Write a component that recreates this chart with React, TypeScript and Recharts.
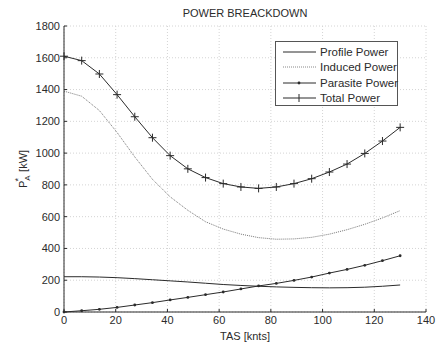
import { LineChart, Line, XAxis, YAxis, CartesianGrid, Label } from 'recharts'

// true air speed samples [knts]
const tas = [
  0, 6.84, 13.68, 20.53, 27.37, 34.21, 41.05, 47.89, 54.74, 61.58,
  68.42, 75.26, 82.11, 88.95, 95.79, 102.63, 109.47, 116.32, 123.16, 130,
]

// power components [kW]
const profilePower = [
  222, 222, 220, 216, 210, 203, 196, 189, 181, 173,
  167, 162, 158, 155, 153, 152, 153, 156, 162, 170,
]
const inducedPower = [
  1390, 1358, 1268, 1130, 976, 835, 725, 640, 568, 522,
  490, 468, 458, 460, 470, 490, 518, 552, 592, 638,
]
const parasitePower = [
  0, 8, 17, 29, 44, 59, 76, 92, 109, 126,
  145, 164, 180, 199, 220, 245, 268, 294, 323, 354,
]
const totalPower = [
  1610, 1582, 1498, 1368, 1229, 1097, 984, 901, 846, 808,
  787, 778, 787, 808, 839, 881, 931, 998, 1076, 1162,
]

const xTicks = [0, 20, 40, 60, 80, 100, 120, 140]
const yTicks = [0, 200, 400, 600, 800, 1000, 1200, 1400, 1600, 1800]

const seriesNames = ['Profile Power', 'Induced Power', 'Parasite Power', 'Total Power']

const data = tas.map((v, i) => ({
  tas: v,
  profile: profilePower[i],
  induced: inducedPower[i],
  parasite: parasitePower[i],
  total: totalPower[i],
}))

const FONT = '"Liberation Sans", Arial, sans-serif'
const INK = '#2b2b2b'

function PlusDot(props: any) {
  const { cx, cy } = props
  if (cx == null || cy == null) return null
  return (
    <g stroke={INK} strokeWidth={1}>
      <line x1={cx - 4} y1={cy} x2={cx + 4} y2={cy} />
      <line x1={cx} y1={cy - 4} x2={cx} y2={cy + 4} />
    </g>
  )
}

function SmallDot(props: any) {
  const { cx, cy } = props
  if (cx == null || cy == null) return null
  return <circle cx={cx} cy={cy} r={1.4} fill={INK} stroke="none" />
}

function YLabel() {
  return (
    <text
      transform="translate(27,169) rotate(-90)"
      textAnchor="middle"
      fontFamily={FONT}
      fontSize={11}
      fill={INK}
    >
      <tspan>P</tspan>
      <tspan fontSize={8} dy={3}>A</tspan>
      <tspan fontSize={9} dx={-6} dy={-9}>*</tspan>
      <tspan dx={6} dy={6}>[kW]</tspan>
    </text>
  )
}

function LegendBox() {
  const row = (name: string, i: number) => (
    <div key={name} style={{ display: 'flex', alignItems: 'center', height: 15.5, whiteSpace: 'nowrap' }}>
      <svg width={38} height={10} style={{ marginRight: 2, flex: 'none' }}>
        <line
          x1={3}
          y1={5}
          x2={36}
          y2={5}
          stroke={i === 1 ? '#888' : INK}
          strokeWidth={1}
          strokeDasharray={i === 1 ? '1 1' : undefined}
        />
        {i === 2 && <circle cx={19} cy={5} r={1.4} fill={INK} />}
        {i === 3 && <line x1={19} y1={1} x2={19} y2={9} stroke={INK} />}
      </svg>
      <span>{name}</span>
    </div>
  )
  return (
    <div
      style={{
        position: 'absolute',
        left: 275,
        top: 41,
        width: 123,
        height: 65,
        border: '1px solid #555',
        background: '#fff',
        fontFamily: FONT,
        fontSize: 11.5,
        color: INK,
        padding: '2px 0 0 4px',
        boxSizing: 'border-box',
      }}
    >
      {seriesNames.map(row)}
    </div>
  )
}

export default function App() {
  return (
    <div style={{ position: 'absolute', left: 0, top: 0, width: 438, height: 342, background: '#fff' }}>
      <div
        style={{
          position: 'absolute',
          left: 64,
          width: 362,
          top: 7,
          textAlign: 'center',
          fontFamily: FONT,
          fontSize: 11,
          color: INK,
        }}
      >
        POWER BREACKDOWN
      </div>
      <LineChart
        width={438}
        height={342}
        data={data}
        margin={{ top: 26, right: 12, bottom: 0, left: 0 }}
      >
        <CartesianGrid stroke="#d4d4d4" strokeDasharray="1 2" />
        <XAxis
          dataKey="tas"
          type="number"
          domain={[0, 140]}
          ticks={xTicks}
          height={30}
          tick={{ fill: INK, fontSize: 11, fontFamily: FONT }}
          tickSize={-3}
          tickMargin={7}
          stroke={INK}
          interval={0}
        >
          <Label
            value="TAS [knts]"
            position="insideBottom"
            offset={2}
            style={{ fill: INK, fontSize: 11, fontFamily: FONT }}
          />
        </XAxis>
        <YAxis
          type="number"
          domain={[0, 1800]}
          ticks={yTicks}
          width={64}
          tick={{ fill: INK, fontSize: 11, fontFamily: FONT }}
          tickSize={-3}
          tickMargin={7}
          stroke={INK}
          interval={0}
        >
          <Label content={() => <YLabel />} />
        </YAxis>
        <Line
          dataKey="profile"
          type="linear"
          stroke={INK}
          strokeWidth={1}
          dot={false}
          activeDot={false}
          isAnimationActive={false}
        />
        <Line
          dataKey="induced"
          type="linear"
          stroke="#777"
          strokeWidth={1}
          strokeDasharray="1 1"
          dot={false}
          activeDot={false}
          isAnimationActive={false}
        />
        <Line
          dataKey="parasite"
          type="linear"
          stroke={INK}
          strokeWidth={1}
          dot={<SmallDot />}
          activeDot={false}
          isAnimationActive={false}
        />
        <Line
          dataKey="total"
          type="linear"
          stroke={INK}
          strokeWidth={1}
          dot={<PlusDot />}
          activeDot={false}
          isAnimationActive={false}
        />
      </LineChart>
      <LegendBox />
    </div>
  )
}
